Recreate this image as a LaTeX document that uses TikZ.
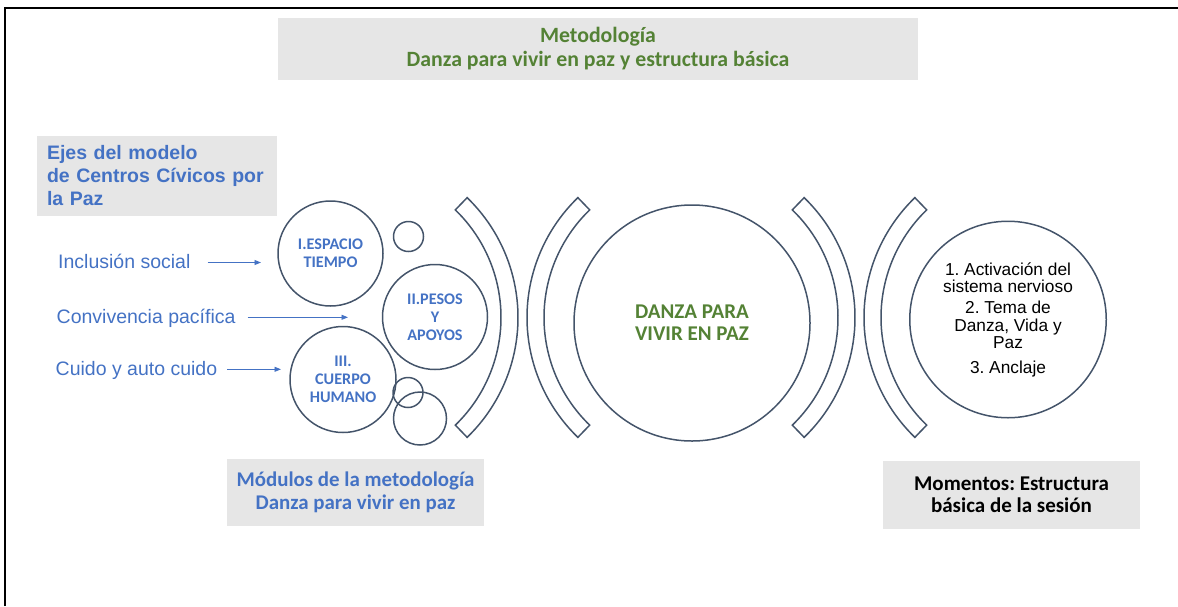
\documentclass[tikz,border=0pt]{standalone}
\usepackage{fontspec}
\setmainfont{Carlito}
\newfontfamily\arialf{Liberation Sans}
\usetikzlibrary{arrows.meta,calc}
\definecolor{boxgray}{HTML}{E6E6E6}
\definecolor{ablue}{HTML}{4472C4}
\definecolor{agreen}{HTML}{548235}
\definecolor{slate}{HTML}{44546A}
\frenchspacing
\begin{document}
\begin{tikzpicture}[x=1pt,y=1pt,
  graybox/.style={fill=boxgray, inner sep=0pt, align=center},
  circ/.style={circle, draw=slate, line width=1.5pt, inner sep=0pt, align=center},
  ring/.style={draw=slate, line width=1.5pt, line join=miter},
  arr/.style={draw=ablue, line width=0.9pt, -{Triangle[length=6.5pt,width=5pt]}},
  modtxt/.style={text=ablue, font=\bfseries\fontsize{16.2}{18}\selectfont},
  axis/.style={text=ablue, font=\arialf\fontsize{19.5}{23}\selectfont, anchor=base west, inner sep=0pt}
]
\useasboundingbox (0,0) rectangle (1178,-606);
\draw[line width=2pt] (5,-606) -- (5,-8) -- (1178,-8);

\node[graybox, minimum width=640, minimum height=62, text=agreen, font=\bfseries\fontsize{21.8}{23.5}\selectfont] (title) at (598,-48.5) {Metodología\\Danza para vivir en paz y estructura básica};

\node[graybox, minimum width=240, minimum height=80, text width=220, align=left, inner xsep=10, text=ablue, font=\arialf\bfseries\fontsize{19.5}{23}\selectfont] (ejes) at (157,-176) {Ejes del modelo\\de Centros Cívicos por\\la Paz};

\node[axis] (inc) at (58,-268) {Inclusión social};
\node[axis] (conv) at (56.5,-323) {Convivencia pacífica};
\node[axis] (cuido) at (55.5,-375.5) {Cuido y auto cuido};
\coordinate (incEnd) at (261,-262.5);
\coordinate (convEnd) at (348,-317.3);
\coordinate (cuidoEnd) at (281,-369.3);
\draw[arr] ([xshift=17pt]inc.east |- incEnd) -- (incEnd);
\draw[arr] ([xshift=12pt]conv.east |- convEnd) -- (convEnd);
\draw[arr] ([xshift=10pt]cuido.east |- cuidoEnd) -- (cuidoEnd);

\node[circ, minimum size=105, modtxt] (esp) at (330.5,-253.5) {I.ESPACIO\\TIEMPO};
\node[circ, minimum size=30] (s1) at (408.5,-236.5) {};
\node[circ, minimum size=105, modtxt] (pes) at (435,-317) {II.PESOS\\Y\\APOYOS};
\node[circ, minimum size=106, modtxt] (cue) at (343,-379.5) {III.\\CUERPO\\HUMANO};
\node[circ, minimum size=30] (s2) at (408,-392.5) {};
\node[circ, minimum size=53] (s3) at (420,-418.5) {};

\coordinate (r1) at (351.4,-317.5);
\coordinate (r2) at (693.6,-317.5);
\coordinate (r3) at (688.4,-317.5);
\coordinate (r4) at (1030.6,-317.5);
\draw[ring] ($(r1)+(46:166.6)$) arc[start angle=46,end angle=-46,radius=166.6] -- ($(r1)+(-46:149.6)$) arc[start angle=-46,end angle=46,radius=149.6] -- cycle;
\draw[ring] ($(r2)+(134:166.6)$) arc[start angle=134,end angle=226,radius=166.6] -- ($(r2)+(226:149.6)$) arc[start angle=226,end angle=134,radius=149.6] -- cycle;
\draw[ring] ($(r3)+(46:166.6)$) arc[start angle=46,end angle=-46,radius=166.6] -- ($(r3)+(-46:149.6)$) arc[start angle=-46,end angle=46,radius=149.6] -- cycle;
\draw[ring] ($(r4)+(134:166.6)$) arc[start angle=134,end angle=226,radius=166.6] -- ($(r4)+(226:149.6)$) arc[start angle=226,end angle=134,radius=149.6] -- cycle;

\node[circ, minimum size=236, text=agreen, font=\bfseries\fontsize{21}{22}\selectfont] (danza) at (692,-323) {DANZA PARA\\VIVIR EN PAZ};

\node[circ, minimum size=196.5, font=\arialf\fontsize{17.3}{17.5}\selectfont] (mom) at (1008,-319.5) {1. Activación del\\sistema nervioso\\[3.5pt]2. Tema de\\Danza, Vida y\\Paz\\[7pt]3. Anclaje};

\node[graybox, minimum width=257, minimum height=67, text=ablue, font=\bfseries\fontsize{20.9}{23}\selectfont] (modl) at (355.5,-492.5) {Módulos de la metodología\\Danza para vivir en paz};
\node[graybox, minimum width=257, minimum height=68, font=\bfseries\fontsize{21}{22}\selectfont] (momb) at (1011.5,-495) {Momentos: Estructura\\básica de la sesión};
\end{tikzpicture}
\end{document}
